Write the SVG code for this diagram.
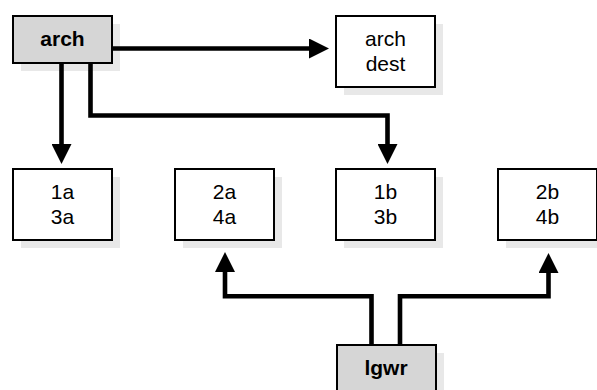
<svg xmlns="http://www.w3.org/2000/svg" width="597" height="390" viewBox="0 0 597 390">
<style>
.shadow{fill:#e8e8e8;stroke:none}
.box{fill:#ffffff;stroke:#000;stroke-width:2}
.gray{fill:#d6d6d6;stroke:#000;stroke-width:2}
.lbl{font-family:"Liberation Sans",Arial,sans-serif;font-size:21px;text-anchor:middle;fill:#000}
.bold{font-weight:bold}
.conn{fill:none;stroke:#000;stroke-width:4.6;stroke-linejoin:miter}
</style>
<defs>
<marker id="ah" markerUnits="userSpaceOnUse" markerWidth="20" markerHeight="20" refX="0" refY="10" orient="auto" viewBox="0 0 20 20">
<path d="M0,0 L20,10 L0,20 z" fill="#000"/>
</marker>
</defs>
<g id="arch">
<rect class="shadow" x="21" y="24" width="99" height="47"/>
<rect class="gray" x="13" y="16" width="99" height="47"/>
<text class="lbl bold" x="62.5" y="46">arch</text>
</g>
<g id="archdest">
<rect class="shadow" x="344" y="24" width="99" height="71"/>
<rect class="box" x="336" y="16" width="99" height="71"/>
<text class="lbl" x="385.5" y="45.5">arch</text>
<text class="lbl" x="385.5" y="71">dest</text>
</g>
<g id="n1a3a">
<rect class="shadow" x="21" y="177" width="99" height="71"/>
<rect class="box" x="13" y="169" width="99" height="71"/>
<text class="lbl" x="62.5" y="199">1a</text>
<text class="lbl" x="62.5" y="224">3a</text>
</g>
<g id="n2a4a">
<rect class="shadow" x="183" y="177" width="99" height="71"/>
<rect class="box" x="175" y="169" width="99" height="71"/>
<text class="lbl" x="224.5" y="199">2a</text>
<text class="lbl" x="224.5" y="224">4a</text>
</g>
<g id="n1b3b">
<rect class="shadow" x="344" y="177" width="99" height="71"/>
<rect class="box" x="336" y="169" width="99" height="71"/>
<text class="lbl" x="385.5" y="199">1b</text>
<text class="lbl" x="385.5" y="224">3b</text>
</g>
<g id="n2b4b">
<rect class="shadow" x="506" y="177" width="99" height="71"/>
<rect class="box" x="498" y="169" width="99" height="71"/>
<text class="lbl" x="547.5" y="199">2b</text>
<text class="lbl" x="547.5" y="224">4b</text>
</g>
<g id="lgwr">
<rect class="shadow" x="345" y="353" width="99" height="47"/>
<rect class="gray" x="337" y="345" width="99" height="47"/>
<text class="lbl bold" x="386" y="375">lgwr</text>
</g>
<g id="connectors">
<path class="conn" d="M113,48.5 H309" marker-end="url(#ah)"/>
<path class="conn" d="M61.5,64 V144" marker-end="url(#ah)"/>
<path class="conn" d="M90.5,64 V115.5 H387.5 V144" marker-end="url(#ah)"/>
<path class="conn" d="M371.5,344 V296.3 H225 V272" marker-end="url(#ah)"/>
<path class="conn" d="M400,344 V296.3 H548.5 V273" marker-end="url(#ah)"/>
</g>
</svg>
